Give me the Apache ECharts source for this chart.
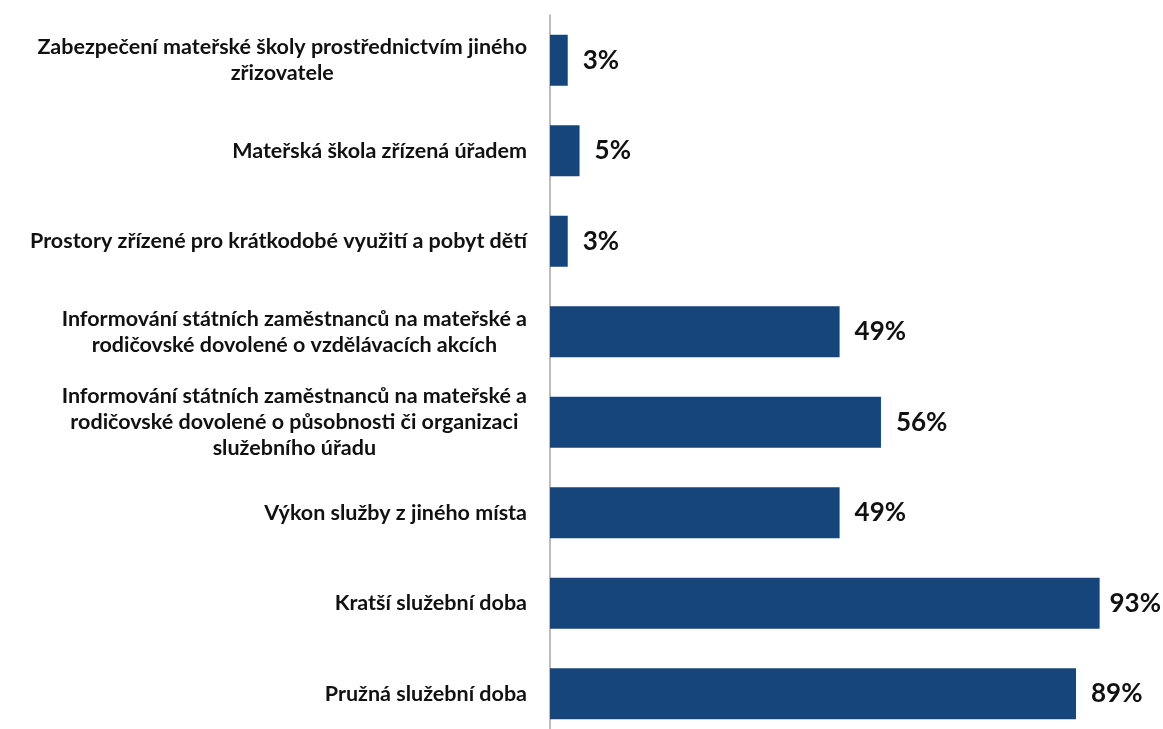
<!DOCTYPE html>
<html>
<head>
<meta charset="utf-8">
<script src="https://cdn.jsdelivr.net/npm/echarts@6/dist/echarts.min.js"></script>
<style>
html,body{margin:0;padding:0;background:#fff;overflow:hidden;width:1163px;height:729px;}
#chart{width:1163px;height:740px;}
</style>
</head>
<body>
<div id="chart"></div>
<script>
const categories = [
  "Zabezpečení mateřské školy prostřednictvím jiného\nzřizovatele",
  "Mateřská škola zřízená úřadem",
  "Prostory zřízené pro krátkodobé využití a pobyt dětí",
  "Informování státních zaměstnanců na mateřské a\nrodičovské dovolené o vzdělávacích akcích",
  "Informování státních zaměstnanců na mateřské a\nrodičovské dovolené o působnosti či organizaci\nslužebního úřadu",
  "Výkon služby z jiného místa",
  "Kratší služební doba",
  "Pružná služební doba"
];
const values = [3, 5, 3, 49, 56, 49, 93, 89];

const chart = echarts.init(document.getElementById('chart'), null, {renderer: 'canvas'});
chart.setOption({
  animation: false,
  backgroundColor: '#ffffff',
  grid: {left: 550, top: 15, width: 591, height: 724, containLabel: false},
  xAxis: {
    type: 'value', min: 0, max: 100, show: false
  },
  yAxis: {
    type: 'category',
    data: categories,
    inverse: true,
    axisTick: {show: false},
    axisLine: {show: true, lineStyle: {color: '#a6a6a6', width: 1.5}},
    splitLine: {show: false},
    axisLabel: {
      margin: 23,
      align: 'right',
      formatter: function (v) {
        return v.split('\n').map(function (l) { return '{c|' + l + '}'; }).join('\n');
      },
      rich: {
        c: {
          align: 'center',
          fontFamily: 'Lato',
          fontWeight: 'bold',
          fontSize: 21.5,
          lineHeight: 26,
          color: '#111111'
        }
      }
    }
  },
  series: [{
    type: 'bar',
    data: values,
    barWidth: 51,
    itemStyle: {color: '#16457b'},
    label: {
      show: true,
      position: 'right',
      distance: 15,
      formatter: '{c}%',
      fontFamily: 'Lato',
      fontWeight: 'bold',
      fontSize: 26,
      color: '#111111'
    },
    labelLayout: function (params) {
      const r = params.labelRect;
      const over = r.x + r.width - 1161;
      return over > 0 ? {dx: -over} : {};
    }
  }]
});
</script>
</body>
</html>
